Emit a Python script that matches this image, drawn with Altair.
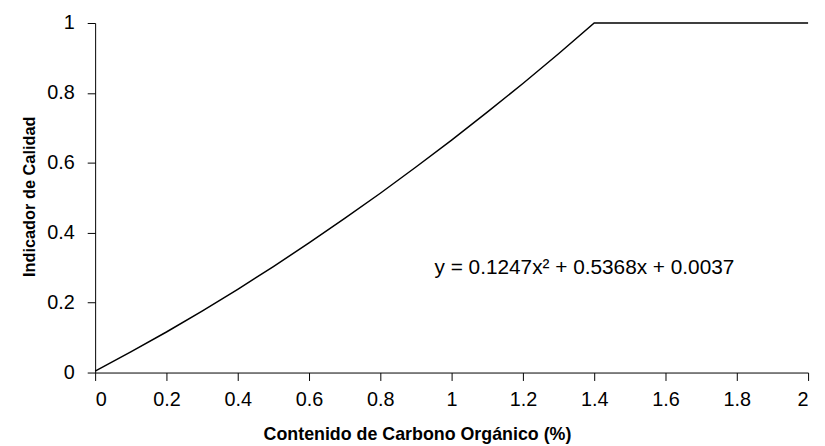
import altair as alt
import pandas as pd

# Values (carbon content %, quality indicator)
carbono = [0.0, 0.1, 0.2, 0.3, 0.4, 0.5, 0.6, 0.7, 0.8, 0.9, 1.0, 1.1, 1.2, 1.3, 1.4, 2.0]
indicador = [0.004, 0.059, 0.116, 0.176, 0.238, 0.303, 0.371, 0.441, 0.513, 0.588,
             0.665, 0.745, 0.827, 0.912, 1.0, 1.0]

ecuacion = ["y = 0.1247x² + 0.5368x + 0.0037"]
ecuacion_x = [0.952]
ecuacion_y = [0.30]

x_ticks = [0, 0.2, 0.4, 0.6, 0.8, 1, 1.2, 1.4, 1.6, 1.8, 2]
y_ticks = [0, 0.2, 0.4, 0.6, 0.8, 1]

df = pd.DataFrame({"x": carbono, "y": indicador})
df_txt = pd.DataFrame({"x": ecuacion_x, "y": ecuacion_y, "t": ecuacion})

FONT = "Liberation Sans"

xscale = alt.Scale(domain=[0, 2], nice=False, zero=True)
yscale = alt.Scale(domain=[0, 1], nice=False, zero=True)

line = alt.Chart(df).mark_line(color="black", strokeWidth=1.5).encode(
    x=alt.X("x:Q", scale=xscale,
            axis=alt.Axis(title="Contenido de Carbono Orgánico (%)",
                          values=x_ticks,
                          labelExpr="datum.value == 0 || datum.value == 1 || datum.value == 2 ? format(datum.value, 'd') : format(datum.value, '.1f')",
                          titleX=325, titleY=63, titleBaseline="middle",
                          titleAlign="center", titleFontSize=18)),
    y=alt.Y("y:Q", scale=yscale,
            axis=alt.Axis(title="Indicador de Calidad",
                          values=y_ticks,
                          labelExpr="datum.value == 0 || datum.value == 1 ? format(datum.value, 'd') : format(datum.value, '.1f')",
                          titleX=-66, titleY=175, titleAngle=-90,
                          titleBaseline="middle", titleAlign="center",
                          titleFontSize=16.5, labelPadding=13)),
)

txt = alt.Chart(df_txt).mark_text(align="left", baseline="middle", font=FONT,
                                  fontSize=21, color="black").encode(
    x=alt.X("x:Q", scale=xscale), y=alt.Y("y:Q", scale=yscale), text="t:N")

chart = (line + txt).properties(
    width=720, height=353,
    autosize=alt.AutoSizeParams(type="none"),
    padding={"left": 88, "top": 13, "right": 9, "bottom": 70},
).configure_view(stroke=None).configure_axis(
    grid=False, domainColor="black", tickColor="black", tickSize=8,
    labelFont=FONT, labelFontSize=20, labelColor="black", labelPadding=9,
    titleFont=FONT, titleFontWeight="bold", titleColor="black",
    domainWidth=1, tickWidth=1,
)

chart.save("out.html", embed_options={"renderer": "svg", "actions": False})
